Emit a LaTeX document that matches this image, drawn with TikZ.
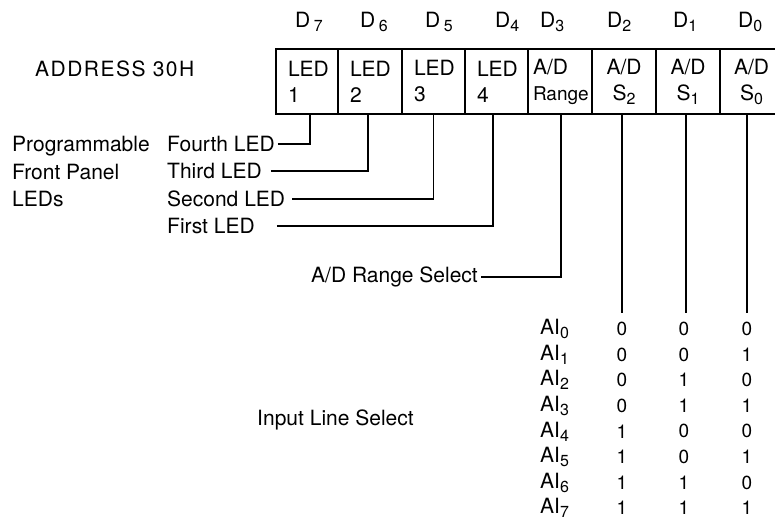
\documentclass[tikz,border=0pt]{standalone}
\usepackage{fontspec}
\setmainfont{TeX Gyre Heros}
\newcommand\sbs[1]{\raisebox{-4pt}{\fontsize{16}{16}\selectfont #1}}
\begin{document}
\begin{tikzpicture}[x=1pt,y=-1pt,
  txt/.style={font=\fontsize{21}{26}\selectfont, inner sep=0pt},
  cell/.style={draw, line width=1.3pt, minimum height=65pt, inner sep=0pt,
               font=\fontsize{21}{26}\selectfont},
  wire/.style={line width=1.3pt},
  bit/.style={font=\fontsize{19}{19}\selectfont, inner sep=0pt}]
\useasboundingbox (0,0) rectangle (775,521);

% register cells
\node[cell, minimum width=62pt, text width=38pt, align=left] (c7) at (307,81.5) {LED\\1};
\node[cell, minimum width=64pt, text width=40pt, align=left] (c6) at (370,81.5) {LED\\2};
\node[cell, minimum width=63pt, text width=39pt, align=left] (c5) at (433.5,81.5) {LED\\3};
\node[cell, minimum width=63pt, text width=39pt, align=left] (c4) at (496.5,81.5) {LED\\4};
\node[cell, minimum width=64pt, text width=54pt, align=left] (c3) at (560,81.5) {A/D\\{\fontsize{19}{26}\selectfont Range}};
\node[cell, minimum width=64pt, text width=60pt, align=center] (c2) at (624,81.5) {A/D\\S\sbs{2}};
\node[cell, minimum width=64pt, text width=60pt, align=center] (c1) at (688,81.5) {A/D\\S\sbs{1}};
\node[cell, minimum width=63pt, text width=60pt, align=center] (c0) at (751.5,81.5) {A/D\\S\sbs{0}};

% bit labels
\node[txt, anchor=west] (d7) at (295,22) {D\,\sbs{7}};
\node[txt, anchor=west] (d6) at (360,22) {D\,\sbs{6}};
\node[txt, anchor=west] (d5) at (425,22) {D\,\sbs{5}};
\node[txt, anchor=west] (d4) at (495,22) {D\sbs{4}};
\node[txt, anchor=west] (d3) at (540,22) {D\sbs{3}};
\node[txt, anchor=west] (d2) at (607,22) {D\sbs{2}};
\node[txt, anchor=west] (d1) at (673,22) {D\sbs{1}};
\node[txt, anchor=west] (d0) at (738,22) {D\sbs{0}};

\node[txt, anchor=west] (addr) at (35,69) {\addfontfeatures{LetterSpace=7}ADDRESS 30H};

% LED labels
\node[txt, anchor=west] (prog) at (12,146) {Programmable};
\node[txt, anchor=west] (front) at (12,172) {Front Panel};
\node[txt, anchor=west] (leds) at (12,199) {LEDs};

\node[txt, anchor=west] (fourth) at (167,144) {Fourth LED};
\node[txt, anchor=west] (third) at (167,171) {Third LED};
\node[txt, anchor=west] (second) at (167,199) {Second LED};
\node[txt, anchor=west] (first) at (167,226) {First LED};

\draw[wire] ([xshift=3pt]fourth.east) -| ([xshift=3pt]c7.south);
\draw[wire] ([xshift=9pt]third.east) -| ([xshift=-2pt]c6.south);
\draw[wire] ([xshift=7pt]second.east) -| (c5.south);
\draw[wire] ([xshift=22pt]first.east) -| ([xshift=-3.5pt]c4.south);

% A/D range
\node[txt, anchor=east] (rsel) at (478,277) {A/D Range Select};
\draw[wire] ([xshift=3pt]rsel.east) -| ([xshift=1pt]c3.south);

% select lines
\coordinate (e2) at (622,313);
\coordinate (e1) at (686,313);
\coordinate (e0) at (747,313);
\draw[wire] ([xshift=-2pt]c2.south) -- (e2);
\draw[wire] ([xshift=-2pt]c1.south) -- (e1);
\draw[wire] ([xshift=-4.5pt]c0.south) -- (e0);

% table
\foreach \i in {0,...,7}{
  \pgfmathsetmacro{\yy}{329+25.6*\i}
  \pgfmathtruncatemacro{\ba}{\i/4}
  \pgfmathtruncatemacro{\bb}{mod(\i/2,2)}
  \pgfmathtruncatemacro{\bc}{mod(\i,2)}
  \node[txt, anchor=west] (ai\i) at (540,\yy) {AI\sbs{\i}};
  \node[bit] (v2\i) at (622,\yy) {\ba};
  \node[bit] (v1\i) at (684,\yy) {\bb};
  \node[bit] (v0\i) at (747,\yy) {\bc};
}

\node[txt, anchor=west] (ils) at (257,420) {Input Line Select};
\end{tikzpicture}
\end{document}
